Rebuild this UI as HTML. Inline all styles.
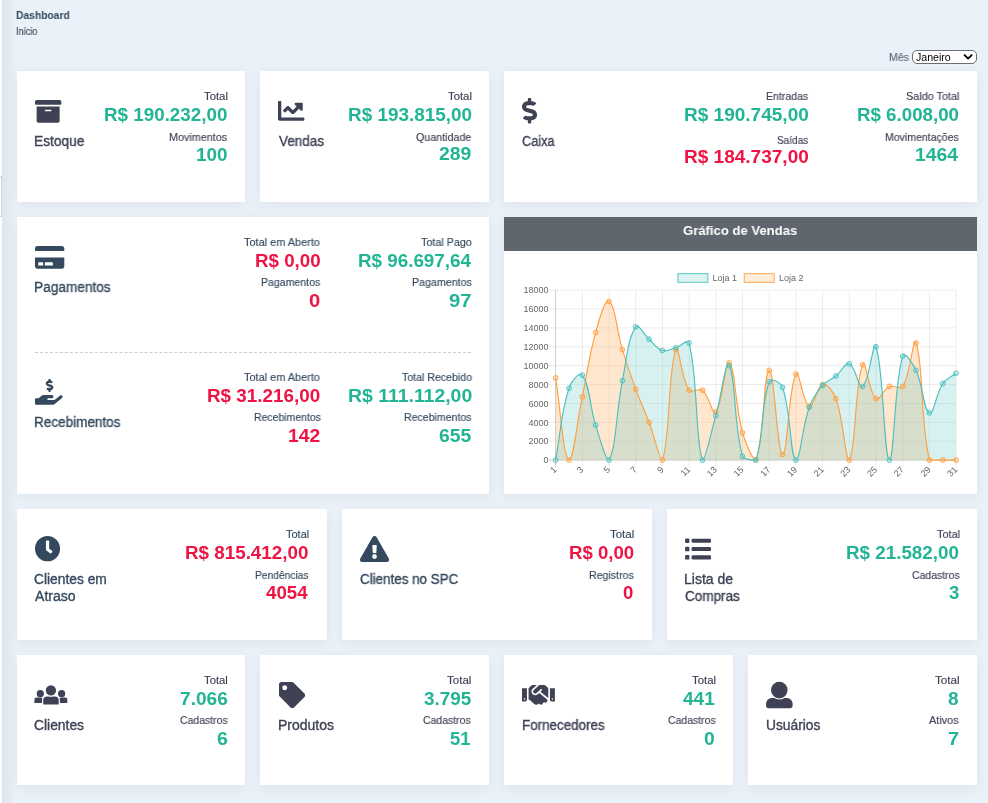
<!DOCTYPE html>
<html lang="pt-BR"><head><meta charset="utf-8"><title>Dashboard</title>
<style>
html,body{margin:0;padding:0}
body{width:988px;height:803px;overflow:hidden;background:#eaf1f8;font-family:"Liberation Sans",Arial,sans-serif;position:relative}
.edge{position:absolute;left:0;top:0;width:2px;height:803px;background:#fff}
.edgesh{position:absolute;left:2px;top:0;width:14px;height:803px;background:linear-gradient(to right,rgba(0,0,0,.05),rgba(0,0,0,0))}
.edge2{position:absolute;left:-10px;top:176px;width:12px;height:41px;border:1px solid #d3d6da;box-sizing:border-box;background:#fff}
.card{position:absolute;background:#fff;box-shadow:0 3px 12px rgba(0,0,0,.06)}
.tx{position:absolute;white-space:nowrap;transform-origin:0 0;will-change:transform}
.lbl{font-size:11.0px;line-height:14px;font-weight:400}
.val{font-size:18.6px;line-height:22px;font-weight:700}
.ttl{font-size:13.8px;line-height:17px;font-weight:400}
.hb{font-size:11.0px;line-height:14px;font-weight:700}
.hs{font-size:10.4px;line-height:13px;font-weight:400}
.hdr{font-size:13.4px;line-height:16px;font-weight:700}
.ic{position:absolute;overflow:visible;will-change:transform}
.chead{position:absolute;left:504px;top:217px;width:473px;height:33.5px;background:#5f666d}
.sel{position:absolute;left:912.1px;top:50.1px;width:64.8px;height:13.9px;box-sizing:border-box;border:1px solid #6e6e6e;border-radius:5px;background:#fff}
.dash{position:absolute;left:34.5px;top:352px;width:436.5px;height:0;border-top:1px dashed #cbcdd0}
</style></head><body>
<div class="edgesh"></div><div class="edge"></div><div class="edge2"></div>

<div class="card" style="left:17px;top:71px;width:228px;height:131px"></div>
<div class="card" style="left:260px;top:71px;width:229px;height:131px"></div>
<div class="card" style="left:504px;top:71px;width:473px;height:131px"></div>
<div class="card" style="left:17px;top:217px;width:472px;height:277px"></div>
<div class="card" style="left:504px;top:217px;width:473px;height:277px"></div>
<div class="card" style="left:17px;top:509px;width:310px;height:131px"></div>
<div class="card" style="left:342px;top:509px;width:310px;height:131px"></div>
<div class="card" style="left:667px;top:509px;width:310px;height:131px"></div>
<div class="card" style="left:17px;top:655px;width:228px;height:130px"></div>
<div class="card" style="left:260px;top:655px;width:229px;height:130px"></div>
<div class="card" style="left:504px;top:655px;width:229px;height:130px"></div>
<div class="card" style="left:748px;top:655px;width:229px;height:130px"></div>
<div class="chead"></div>
<div class="dash"></div>
<div class="sel"></div>
<div class="tx hb" style="left:16.28px;top:7.8px;color:#34495e;transform:scaleX(0.9354)">Dashboard</div>
<div class="tx hs" style="left:16.1px;top:24.8px;color:#3f4555;transform:scaleX(0.8579);-webkit-text-stroke:0.15px #3f4555">Início</div>
<div class="tx lbl" style="left:889.15px;top:49.8px;color:#5b6b7c;transform:scaleX(0.9606);-webkit-text-stroke:0.15px #5b6b7c">Mês</div>
<div class="tx lbl" style="left:203.87px;top:89.1px;color:#3f4254;transform:scaleX(1.0299);-webkit-text-stroke:0.15px #3f4254">Total</div>
<div class="tx val" style="left:103.67px;top:104.2px;color:#22b595;transform:scaleX(1.0113)">R$ 190.232,00</div>
<div class="tx lbl" style="left:169.24px;top:130.1px;color:#3f4254;transform:scaleX(0.9813);-webkit-text-stroke:0.15px #3f4254">Movimentos</div>
<div class="tx val" style="left:195.57px;top:143.6px;color:#22b595;transform:scaleX(1.0156)">100</div>
<div class="tx ttl" style="left:34px;top:133.1px;color:#3f4254;transform:scaleX(0.9952);-webkit-text-stroke:0.35px #3f4254">Estoque</div>
<div class="tx lbl" style="left:447.67px;top:89.1px;color:#3f4254;transform:scaleX(1.0299);-webkit-text-stroke:0.15px #3f4254">Total</div>
<div class="tx val" style="left:347.57px;top:104.2px;color:#22b595;transform:scaleX(1.0162)">R$ 193.815,00</div>
<div class="tx lbl" style="left:416.07px;top:130.1px;color:#3f4254;transform:scaleX(0.9707);-webkit-text-stroke:0.15px #3f4254">Quantidade</div>
<div class="tx val" style="left:439.22px;top:143.4px;color:#22b595;transform:scaleX(1.0435)">289</div>
<div class="tx ttl" style="left:278.6px;top:133.1px;color:#3f4254;transform:scaleX(0.9775);-webkit-text-stroke:0.35px #3f4254">Vendas</div>
<div class="tx lbl" style="left:766.36px;top:89.2px;color:#3f4254;transform:scaleX(0.9576);-webkit-text-stroke:0.15px #3f4254">Entradas</div>
<div class="tx val" style="left:684.06px;top:103.9px;color:#22b595;transform:scaleX(1.0229)">R$ 190.745,00</div>
<div class="tx lbl" style="left:777.4px;top:133.2px;color:#3f4254;transform:scaleX(0.9081);-webkit-text-stroke:0.15px #3f4254">Saídas</div>
<div class="tx val" style="left:684.06px;top:146.2px;color:#ef1443;transform:scaleX(1.0229)">R$ 184.737,00</div>
<div class="tx lbl" style="left:905.57px;top:89.2px;color:#3f4254;transform:scaleX(0.9850);-webkit-text-stroke:0.15px #3f4254">Saldo Total</div>
<div class="tx val" style="left:857.18px;top:103.9px;color:#22b595;transform:scaleX(1.0064)">R$ 6.008,00</div>
<div class="tx lbl" style="left:885.06px;top:130.3px;color:#3f4254;transform:scaleX(0.9575);-webkit-text-stroke:0.15px #3f4254">Movimentações</div>
<div class="tx val" style="left:915.44px;top:143.8px;color:#22b595;transform:scaleX(1.0388)">1464</div>
<div class="tx ttl" style="left:522.46px;top:133.1px;color:#3f4254;transform:scaleX(0.9237);-webkit-text-stroke:0.35px #3f4254">Caixa</div>
<div class="tx lbl" style="left:244.28px;top:235.4px;color:#34495e;transform:scaleX(0.9932);-webkit-text-stroke:0.15px #34495e">Total em Aberto</div>
<div class="tx val" style="left:254.98px;top:250.1px;color:#ef1443;transform:scaleX(1.0070)">R$ 0,00</div>
<div class="tx lbl" style="left:261.46px;top:275.1px;color:#34495e;transform:scaleX(0.9595);-webkit-text-stroke:0.15px #34495e">Pagamentos</div>
<div class="tx val" style="left:309.39px;top:290.1px;color:#ef1443;transform:scaleX(1.0862)">0</div>
<div class="tx lbl" style="left:420.78px;top:235.4px;color:#34495e;transform:scaleX(0.9773);-webkit-text-stroke:0.15px #34495e">Total Pago</div>
<div class="tx val" style="left:358.17px;top:250.1px;color:#22b595;transform:scaleX(1.0113)">R$ 96.697,64</div>
<div class="tx lbl" style="left:411.65px;top:275.1px;color:#34495e;transform:scaleX(0.9694);-webkit-text-stroke:0.15px #34495e">Pagamentos</div>
<div class="tx val" style="left:448.79px;top:290.1px;color:#22b595;transform:scaleX(1.0895)">97</div>
<div class="tx lbl" style="left:244.28px;top:370.4px;color:#34495e;transform:scaleX(0.9932);-webkit-text-stroke:0.15px #34495e">Total em Aberto</div>
<div class="tx val" style="left:207.37px;top:385.1px;color:#ef1443;transform:scaleX(1.0136)">R$ 31.216,00</div>
<div class="tx lbl" style="left:253.86px;top:410.1px;color:#34495e;transform:scaleX(0.9508);-webkit-text-stroke:0.15px #34495e">Recebimentos</div>
<div class="tx val" style="left:288.34px;top:425.1px;color:#ef1443;transform:scaleX(1.0395)">142</div>
<div class="tx lbl" style="left:401.59px;top:370.4px;color:#34495e;transform:scaleX(0.9619);-webkit-text-stroke:0.15px #34495e">Total Recebido</div>
<div class="tx val" style="left:347.63px;top:385.1px;color:#22b595;transform:scaleX(1.0447)">R$ 111.112,00</div>
<div class="tx lbl" style="left:404.06px;top:410.1px;color:#34495e;transform:scaleX(0.9594);-webkit-text-stroke:0.15px #34495e">Recebimentos</div>
<div class="tx val" style="left:438.82px;top:425.1px;color:#22b595;transform:scaleX(1.0404)">655</div>
<div class="tx ttl" style="left:34.21px;top:278.8px;color:#34495e;transform:scaleX(0.9899);-webkit-text-stroke:0.35px #34495e">Pagamentos</div>
<div class="tx ttl" style="left:34.22px;top:414px;color:#34495e;transform:scaleX(0.9805);-webkit-text-stroke:0.35px #34495e">Recebimentos</div>
<div class="tx lbl" style="left:285.78px;top:527px;color:#34495e;transform:scaleX(0.9941);-webkit-text-stroke:0.15px #34495e">Total</div>
<div class="tx val" style="left:185.17px;top:541.8px;color:#ef1443;transform:scaleX(1.0113)">R$ 815.412,00</div>
<div class="tx lbl" style="left:254.98px;top:567.8px;color:#34495e;transform:scaleX(0.9311);-webkit-text-stroke:0.15px #34495e">Pendências</div>
<div class="tx val" style="left:266.21px;top:581.9px;color:#ef1443;transform:scaleX(1.0057)">4054</div>
<div class="tx ttl" style="left:34.41px;top:570.6px;color:#34495e;-webkit-text-stroke:0.35px #34495e">Clientes em</div>
<div class="tx ttl" style="left:34.9px;top:587.7px;color:#34495e;transform:scaleX(1.0207);-webkit-text-stroke:0.35px #34495e">Atraso</div>
<div class="tx lbl" style="left:610.07px;top:527px;color:#34495e;transform:scaleX(1.0434);-webkit-text-stroke:0.15px #34495e">Total</div>
<div class="tx val" style="left:568.69px;top:541.9px;color:#ef1443">R$ 0,00</div>
<div class="tx lbl" style="left:589.15px;top:567.8px;color:#34495e;transform:scaleX(0.9635);-webkit-text-stroke:0.15px #34495e">Registros</div>
<div class="tx val" style="left:623.44px;top:581.8px;color:#ef1443">0</div>
<div class="tx ttl" style="left:360.03px;top:570.8px;color:#34495e;transform:scaleX(0.9709);-webkit-text-stroke:0.35px #34495e">Clientes no SPC</div>
<div class="tx lbl" style="left:936.58px;top:527px;color:#3f4254;transform:scaleX(0.9896);-webkit-text-stroke:0.15px #3f4254">Total</div>
<div class="tx val" style="left:846.47px;top:541.9px;color:#22b595;transform:scaleX(1.0109)">R$ 21.582,00</div>
<div class="tx lbl" style="left:911.58px;top:567.8px;color:#3f4254;transform:scaleX(0.9502);-webkit-text-stroke:0.15px #3f4254">Cadastros</div>
<div class="tx val" style="left:948.73px;top:581.8px;color:#22b595;transform:scaleX(0.9892)">3</div>
<div class="tx ttl" style="left:684.18px;top:570.6px;color:#3f4254;transform:scaleX(1.0143);-webkit-text-stroke:0.35px #3f4254">Lista de</div>
<div class="tx ttl" style="left:684.62px;top:587.7px;color:#3f4254;transform:scaleX(0.9785);-webkit-text-stroke:0.35px #3f4254">Compras</div>
<div class="tx lbl" style="left:204.17px;top:672.9px;color:#3f4254;transform:scaleX(1.0255);-webkit-text-stroke:0.15px #3f4254">Total</div>
<div class="tx val" style="left:179.74px;top:687.9px;color:#22b595;transform:scaleX(1.0282)">7.066</div>
<div class="tx lbl" style="left:179.98px;top:712.9px;color:#3f4254;transform:scaleX(0.9502);-webkit-text-stroke:0.15px #3f4254">Cadastros</div>
<div class="tx val" style="left:216.71px;top:727.7px;color:#22b595;transform:scaleX(1.0533)">6</div>
<div class="tx lbl" style="left:447.07px;top:672.9px;color:#3f4254;transform:scaleX(1.0478);-webkit-text-stroke:0.15px #3f4254">Total</div>
<div class="tx val" style="left:423.52px;top:687.9px;color:#22b595;transform:scaleX(1.0156)">3.795</div>
<div class="tx lbl" style="left:423.38px;top:712.9px;color:#3f4254;transform:scaleX(0.9502);-webkit-text-stroke:0.15px #3f4254">Cadastros</div>
<div class="tx val" style="left:450.25px;top:727.7px;color:#22b595;transform:scaleX(0.9926)">51</div>
<div class="tx lbl" style="left:691.57px;top:672.9px;color:#3f4254;transform:scaleX(1.0344);-webkit-text-stroke:0.15px #3f4254">Total</div>
<div class="tx val" style="left:683.21px;top:687.9px;color:#22b595;transform:scaleX(1.0243)">441</div>
<div class="tx lbl" style="left:667.58px;top:712.9px;color:#3f4254;transform:scaleX(0.9502);-webkit-text-stroke:0.15px #3f4254">Cadastros</div>
<div class="tx val" style="left:704.42px;top:727.7px;color:#22b595;transform:scaleX(1.0424)">0</div>
<div class="tx lbl" style="left:934.77px;top:672.9px;color:#3f4254;transform:scaleX(1.0613);-webkit-text-stroke:0.15px #3f4254">Total</div>
<div class="tx val" style="left:948.23px;top:687.9px;color:#22b595;transform:scaleX(1.0215)">8</div>
<div class="tx lbl" style="left:929.4px;top:712.9px;color:#3f4254;transform:scaleX(0.9890);-webkit-text-stroke:0.15px #3f4254">Ativos</div>
<div class="tx val" style="left:948.01px;top:727.7px;color:#22b595;transform:scaleX(1.0641)">7</div>
<div class="tx ttl" style="left:34.41px;top:716.8px;color:#3f4254;transform:scaleX(1.0030);-webkit-text-stroke:0.35px #3f4254">Clientes</div>
<div class="tx ttl" style="left:277.98px;top:717px;color:#3f4254;transform:scaleX(1.0146);-webkit-text-stroke:0.35px #3f4254">Produtos</div>
<div class="tx ttl" style="left:521.83px;top:716.8px;color:#3f4254;transform:scaleX(0.9710);-webkit-text-stroke:0.35px #3f4254">Fornecedores</div>
<div class="tx ttl" style="left:765.94px;top:717px;color:#3f4254;-webkit-text-stroke:0.35px #3f4254">Usuários</div>
<div class="tx hdr" style="left:683.48px;top:223px;color:#ffffff;transform:scaleX(0.9775)">Gráfico de Vendas</div>
<div class="tx" style="left:915.6px;top:51px;font-size:10.6px;line-height:12px;color:#000">Janeiro</div>
<svg class="ic" style="left:962px;top:52px" width="12" height="10" viewBox="0 0 12 10"><path d="M2.6 3.1 L6.1 6.6 L9.6 3.1" fill="none" stroke="#000" stroke-width="1.9" stroke-linecap="round" stroke-linejoin="round"/></svg>
<svg class="ic" style="left:34.5px;top:99.9px" width="26.3" height="22.7" viewBox="0 32 512 448" preserveAspectRatio="none"><path fill="#3f4254" d="M32 448c0 17.7 14.3 32 32 32h384c17.7 0 32-14.3 32-32V160H32v288zm160-212c0-6.6 5.4-12 12-12h104c6.6 0 12 5.4 12 12v8c0 6.6-5.4 12-12 12H204c-6.6 0-12-5.4-12-12v-8zM480 32H32C14.3 32 0 46.3 0 64v48c0 8.8 7.2 16 16 16h480c8.8 0 16-7.2 16-16V64c0-17.7-14.3-32-32-32z"/></svg>
<svg class="ic" style="left:278.4px;top:101.1px" width="26.4" height="19.7" viewBox="0 64 512 384" preserveAspectRatio="none"><path fill="#3f4254" d="M496 384H64V80c0-8.84-7.16-16-16-16H16C7.16 64 0 71.16 0 80v336c0 17.67 14.33 32 32 32h464c8.84 0 16-7.16 16-16v-32c0-8.84-7.16-16-16-16zM464 96H345.94c-21.38 0-32.09 25.85-16.97 40.97l32.4 32.4L288 242.75l-73.37-73.37c-12.5-12.5-32.76-12.5-45.25 0l-68.69 68.69c-6.25 6.25-6.25 16.38 0 22.63l22.62 22.62c6.25 6.25 16.38 6.25 22.63 0L192 237.25l73.37 73.37c12.5 12.5 32.76 12.5 45.25 0l96-96 32.4 32.4c15.12 15.12 40.97 4.41 40.97-16.97V112c.01-8.84-7.15-16-15.99-16z"/></svg>
<svg class="ic" style="left:522.2px;top:98.3px" width="15.1" height="25.5" viewBox="0.04 0 287.94 512" preserveAspectRatio="none"><path fill="#3f4254" d="M209.2 233.4l-108-31.6C88.7 198.2 80 186.5 80 173.5c0-16.3 13.2-29.5 29.5-29.5h66.3c12.2 0 24.2 3.7 34.2 10.5 6.1 4.1 14.3 3.1 19.5-2l34.8-34c7.1-6.9 6.1-18.4-1.8-24.5C238 74.8 207.4 64.1 176 64V16c0-8.8-7.2-16-16-16h-32c-8.8 0-16 7.2-16 16v48h-2.5C45.8 64-5.4 118.7.5 183.6c4.2 46.1 39.4 83.6 83.8 96.6l102.5 30c12.5 3.7 21.2 15.3 21.2 28.3 0 16.3-13.2 29.5-29.5 29.5h-66.3C100 368 88 364.3 78 357.5c-6.1-4.1-14.3-3.1-19.5 2l-34.8 34c-7.1 6.9-6.1 18.4 1.8 24.5 24.5 19.2 55.1 29.9 86.5 30v48c0 8.8 7.2 16 16 16h32c8.8 0 16-7.2 16-16v-48.2c46.6-.9 90.3-28.6 105.7-72.7 21.5-61.6-14.6-124.8-72.5-141.7z"/></svg>
<svg class="ic" style="left:34.6px;top:245.6px" width="29.3" height="22.8" viewBox="0 32 576 448" preserveAspectRatio="none"><path fill="#34495e" d="M0 432c0 26.5 21.5 48 48 48h480c26.5 0 48-21.5 48-48V256H0v176zm192-68c0-6.6 5.4-12 12-12h136c6.6 0 12 5.4 12 12v40c0 6.6-5.4 12-12 12H204c-6.6 0-12-5.4-12-12v-40zm-128 0c0-6.6 5.4-12 12-12h72c6.6 0 12 5.4 12 12v40c0 6.6-5.4 12-12 12H76c-6.6 0-12-5.4-12-12v-40zM576 80v48H0V80c0-26.5 21.5-48 48-48h480c26.5 0 48 21.5 48 48z"/></svg>
<svg class="ic" style="left:34.5px;top:379.1px" width="27.6" height="25.8" viewBox="0 0 576.01 512" preserveAspectRatio="none"><path fill="#34495e" d="M271.06,144.3l54.27,14.3a8.59,8.59,0,0,1,6.63,8.1c0,4.6-4.09,8.4-9.12,8.4h-35.6a30,30,0,0,1-11.19-2.2c-5.24-2.2-11.28-1.7-15.3,2l-19,17.5a11.68,11.68,0,0,0-2.25,2.66,11.42,11.42,0,0,0,3.88,15.74,83.77,83.77,0,0,0,34.51,11.5V240c0,8.8,7.830,16,17.37,16h17.37c9.55,0,17.38-7.2,17.38-16V222.4c32.93-3.6,57.84-31,53.5-63-3.15-23-22.46-41.3-46.56-47.7L282.68,97.4a8.59,8.59,0,0,1-6.63-8.1c0-4.6,4.09-8.4,9.12-8.4h35.6A30,30,0,0,1,332,83.1c5.23,2.2,11.28,1.7,15.3-2l19-17.5A11.31,11.31,0,0,0,368.47,61a11.43,11.43,0,0,0-3.84-15.78,83.820,83.820,0,0,0-34.52-11.5V16c0-8.8-7.82-16-17.37-16H295.37C285.82,0,278,7.2,278,16V33.6c-32.89,3.6-57.85,31-53.51,63C227.630,119.6,247,137.9,271.06,144.3ZM565.27,328.1c-11.8-10.7-30.2-10-42.6,0L430.27,402a63.64,63.64,0,0,1-40,14H272a16,16,0,0,1,0-32h78.29c15.9,0,30.71-10.9,33.25-26.6a31.2,31.2,0,0,0,.46-5.46A32,32,0,0,0,352,320H192a117.66,117.66,0,0,0-74.1,26.29L71.4,384H16A16,16,0,0,0,0,400v96a16,16,0,0,0,16,16H372.77a64,64,0,0,0,40-14L564,377a32,32,0,0,0,1.28-48.9Z"/></svg>
<svg class="ic" style="left:35.1px;top:536.3px" width="25.1" height="25.3" viewBox="8 8 496 496" preserveAspectRatio="none"><path fill="#34495e" d="M256,8C119,8,8,119,8,256S119,504,256,504,504,393,504,256,393,8,256,8Zm92.49,313h0l-20,25a16,16,0,0,1-22.49,2.5h0l-67-49.72a40,40,0,0,1-15-31.23V112a16,16,0,0,1,16-16h32a16,16,0,0,1,16,16V256l58,42.5A16,16,0,0,1,348.49,321Z"/></svg>
<svg class="ic" style="left:360px;top:535.9px" width="29.1" height="26.1" viewBox="-0 -0 576 512" preserveAspectRatio="none"><path fill="#34495e" d="M569.517 440.013C587.975 472.007 564.806 512 527.94 512H48.054c-36.937 0-59.999-40.055-41.577-71.987L246.423 23.985c18.467-32.009 64.72-31.951 83.154 0l239.94 416.028zM288 354c-25.405 0-46 20.595-46 46s20.595 46 46 46 46-20.595 46-46-20.595-46-46-46zm-43.673-165.346l7.418 136c.347 6.364 5.609 11.346 11.982 11.346h48.546c6.373 0 11.635-4.982 11.982-11.346l7.418-136c.375-6.874-5.098-12.654-11.982-12.654h-63.383c-6.884 0-12.356 5.78-11.981 12.654z"/></svg>
<svg class="ic" style="left:278.5px;top:681.9px" width="26.2" height="26.1" viewBox="0 0 512 512" preserveAspectRatio="none"><path fill="#3f4254" d="M0 252.118V48C0 21.490 21.490 0 48 0h204.118a48 48 0 0 1 33.941 14.059l211.882 211.882c18.745 18.745 18.745 49.137 0 67.882L293.823 497.941c-18.745 18.745-49.137 18.745-67.882 0L14.059 286.059A48 48 0 0 1 0 252.118zM112 64c-26.510 0-48 21.490-48 48s21.490 48 48 48 48-21.490 48-48-21.490-48-48-48z"/></svg>
<svg class="ic" style="left:522.1px;top:685.1px" width="32.9" height="19.8" viewBox="0 64 640 384.14" preserveAspectRatio="none"><path fill="#3f4254" d="M434.7 64h-85.9c-8 0-15.7 3-21.6 8.4l-98.3 90c-.1.1-.2.3-.3.4-16.6 15.6-16.3 40.5-2.1 56 12.7 13.9 39.4 17.6 56.1 2.7.1-.1.3-.1.4-.2l79.9-73.2c6.5-5.9 16.7-5.5 22.6 1 6 6.5 5.5 16.6-1 22.6l-26.1 23.9L504 313.8c2.9 2.4 5.5 5 7.9 7.7V128l-54.6-54.6c-5.9-6-14.1-9.4-22.6-9.4zM544 128.2v223.9c0 17.7 14.3 32 32 32h64V128.2h-96zm48 223.9c-8.8 0-16-7.2-16-16s7.2-16 16-16 16 7.2 16 16-7.2 16-16 16zM0 384h64c17.7 0 32-14.3 32-32V128.2H0V384zm48-63.9c8.8 0 16 7.2 16 16s-7.2 16-16 16-16-7.2-16-16c0-8.9 7.2-16 16-16zm435.9 18.6L334.6 217.5l-30 27.5c-29.7 27.1-75.2 24.5-101.7-4.4-26.9-29.4-24.8-74.9 4.4-101.7L289.1 64h-83.8c-8.5 0-16.6 3.4-22.6 9.4L128 128v223.9h18.3l90.5 81.9c27.4 22.3 67.7 18.1 90-9.3l.2-.2 17.9 15.5c15.9 13 39.4 10.5 52.3-5.4l31.4-38.6 5.4 4.4c13.7 11.1 33.9 9.1 45-4.7l9.5-11.7c11.2-13.8 9.1-33.9-4.6-45.1z"/></svg>
<svg class="ic" style="left:684px;top:537px" width="28" height="24" viewBox="684 537 28 24"><g fill="#3f4254">
<rect x="685.1" y="538.5" width="4.3" height="4.5" rx="0.9"/><rect x="691.6" y="538.7" width="19.4" height="4.1" rx="1.2"/>
<rect x="685.1" y="546.8" width="4.3" height="4.5" rx="0.9"/><rect x="691.6" y="547.0" width="19.4" height="4.1" rx="1.2"/>
<rect x="685.1" y="555.1" width="4.3" height="4.5" rx="0.9"/><rect x="691.6" y="555.3" width="19.4" height="4.1" rx="1.2"/></g></svg>
<svg class="ic" style="left:33px;top:684px" width="36" height="22" viewBox="33 684 36 22">
<g fill="#3f4254"><circle cx="40.3" cy="693.7" r="3.6"/><circle cx="61.6" cy="693.7" r="3.6"/>
<path d="M34.4 699.6 a2 2 0 0 1 2 -2 h4.5 a2 2 0 0 1 2 2 v3.4 h-8.5 z"/><path d="M59.1 699.6 a2 2 0 0 1 2 -2 h4.2 a2 2 0 0 1 2 2 v3.4 h-8.2 z"/></g>
<path d="M42.6 700.4 a4.4 4.4 0 0 1 4.4 -4.4 h7.9 a4.4 4.4 0 0 1 4.4 4.4 v3.6 a1 1 0 0 1 -1 1 h-14.7 a1 1 0 0 1 -1 -1 z" fill="#3f4254" stroke="#fff" stroke-width="1.2"/>
<circle cx="50.9" cy="690.4" r="5.7" fill="#3f4254" stroke="#fff" stroke-width="1.1"/></svg>
<svg class="ic" style="left:765px;top:680px" width="29" height="30" viewBox="765 680 29 30">
<path d="M766.1 703.6 a5.6 5.6 0 0 1 5.6 -5.6 h15.3 a5.6 5.6 0 0 1 5.6 5.6 v2.5 a2.1 2.1 0 0 1 -2.1 2.1 h-22.3 a2.1 2.1 0 0 1 -2.1 -2.1 z" fill="#3f4254"/>
<circle cx="779.3" cy="690.1" r="9.3" fill="#fff"/><circle cx="779.3" cy="690.1" r="8.3" fill="#3f4254"/></svg>
<svg class="ic" style="left:504px;top:250px" width="473" height="243" viewBox="504 250 473 243" font-family="Liberation Sans, Arial, sans-serif">
<line x1="548.40" y1="460.10" x2="956.10" y2="460.10" stroke="rgba(0,0,0,0.25)" stroke-width="0.75"/>
<line x1="548.40" y1="441.21" x2="956.10" y2="441.21" stroke="rgba(0,0,0,0.1)" stroke-width="0.75"/>
<line x1="548.40" y1="422.32" x2="956.10" y2="422.32" stroke="rgba(0,0,0,0.1)" stroke-width="0.75"/>
<line x1="548.40" y1="403.43" x2="956.10" y2="403.43" stroke="rgba(0,0,0,0.1)" stroke-width="0.75"/>
<line x1="548.40" y1="384.54" x2="956.10" y2="384.54" stroke="rgba(0,0,0,0.1)" stroke-width="0.75"/>
<line x1="548.40" y1="365.66" x2="956.10" y2="365.66" stroke="rgba(0,0,0,0.1)" stroke-width="0.75"/>
<line x1="548.40" y1="346.77" x2="956.10" y2="346.77" stroke="rgba(0,0,0,0.1)" stroke-width="0.75"/>
<line x1="548.40" y1="327.88" x2="956.10" y2="327.88" stroke="rgba(0,0,0,0.1)" stroke-width="0.75"/>
<line x1="548.40" y1="308.99" x2="956.10" y2="308.99" stroke="rgba(0,0,0,0.1)" stroke-width="0.75"/>
<line x1="548.40" y1="290.10" x2="956.10" y2="290.10" stroke="rgba(0,0,0,0.1)" stroke-width="0.75"/>
<line x1="555.60" y1="290.10" x2="555.60" y2="467.40" stroke="rgba(0,0,0,0.25)" stroke-width="0.75"/>
<line x1="582.30" y1="290.10" x2="582.30" y2="467.40" stroke="rgba(0,0,0,0.1)" stroke-width="0.75"/>
<line x1="609.00" y1="290.10" x2="609.00" y2="467.40" stroke="rgba(0,0,0,0.1)" stroke-width="0.75"/>
<line x1="635.70" y1="290.10" x2="635.70" y2="467.40" stroke="rgba(0,0,0,0.1)" stroke-width="0.75"/>
<line x1="662.40" y1="290.10" x2="662.40" y2="467.40" stroke="rgba(0,0,0,0.1)" stroke-width="0.75"/>
<line x1="689.10" y1="290.10" x2="689.10" y2="467.40" stroke="rgba(0,0,0,0.1)" stroke-width="0.75"/>
<line x1="715.80" y1="290.10" x2="715.80" y2="467.40" stroke="rgba(0,0,0,0.1)" stroke-width="0.75"/>
<line x1="742.50" y1="290.10" x2="742.50" y2="467.40" stroke="rgba(0,0,0,0.1)" stroke-width="0.75"/>
<line x1="769.20" y1="290.10" x2="769.20" y2="467.40" stroke="rgba(0,0,0,0.1)" stroke-width="0.75"/>
<line x1="795.90" y1="290.10" x2="795.90" y2="467.40" stroke="rgba(0,0,0,0.1)" stroke-width="0.75"/>
<line x1="822.60" y1="290.10" x2="822.60" y2="467.40" stroke="rgba(0,0,0,0.1)" stroke-width="0.75"/>
<line x1="849.30" y1="290.10" x2="849.30" y2="467.40" stroke="rgba(0,0,0,0.1)" stroke-width="0.75"/>
<line x1="876.00" y1="290.10" x2="876.00" y2="467.40" stroke="rgba(0,0,0,0.1)" stroke-width="0.75"/>
<line x1="902.70" y1="290.10" x2="902.70" y2="467.40" stroke="rgba(0,0,0,0.1)" stroke-width="0.75"/>
<line x1="929.40" y1="290.10" x2="929.40" y2="467.40" stroke="rgba(0,0,0,0.1)" stroke-width="0.75"/>
<line x1="956.10" y1="290.10" x2="956.10" y2="467.40" stroke="rgba(0,0,0,0.1)" stroke-width="0.75"/>
<path d="M555.60 377.93C560.94 410.80 562.94 455.85 568.95 460.10C573.62 460.10 577.00 422.14 582.30 396.82C587.68 371.14 588.61 357.75 595.65 332.60C599.29 319.60 604.68 298.68 609.00 301.43C615.36 305.48 616.54 330.48 622.35 349.60C627.22 365.61 629.93 373.56 635.70 389.27C640.61 402.65 644.02 408.98 649.05 422.32C654.70 437.32 659.57 460.10 662.40 460.10C670.25 438.71 668.03 369.80 675.75 349.60C678.71 341.84 680.96 377.83 689.10 390.21C691.64 394.08 698.78 387.23 702.45 390.21C709.46 395.91 712.24 415.59 715.80 411.93C722.92 404.63 724.70 359.36 729.15 362.82C735.38 367.67 735.02 405.47 742.50 432.71C745.70 444.38 753.16 460.10 755.85 460.10C763.84 441.44 763.69 371.55 769.20 370.38C774.37 369.28 777.09 453.66 782.55 454.43C787.77 455.17 788.42 387.65 795.90 374.16C799.10 368.39 803.09 403.87 809.25 406.27C813.77 408.02 816.54 386.26 822.60 384.54C827.22 383.24 833.42 391.56 835.95 398.71C844.10 421.78 845.08 460.10 849.30 460.10C855.76 451.87 854.91 382.51 862.65 364.71C865.59 357.96 868.86 392.91 876.00 398.71C879.54 401.59 883.20 389.26 889.35 386.43C893.88 384.35 900.28 390.38 902.70 386.43C910.96 373.00 913.08 334.79 916.05 342.99C923.76 364.26 919.81 418.02 929.40 460.10C930.49 460.10 937.41 460.10 942.75 460.10C948.09 460.10 950.76 460.10 956.10 460.10L956.10 460.10L555.60 460.10Z" fill="rgba(255,159,64,0.25)"/>
<path d="M555.60 460.10C560.94 431.39 560.46 415.36 568.95 388.32C571.14 381.36 579.46 371.18 582.30 375.10C590.14 385.91 589.45 405.41 595.65 425.16C600.13 439.41 605.61 460.10 609.00 460.10C616.29 447.98 616.03 412.30 622.35 380.77C626.71 359.03 627.65 339.46 635.70 326.93C638.33 322.84 643.62 334.41 649.05 339.21C654.30 343.85 656.40 348.63 662.40 350.54C667.08 352.03 670.51 349.19 675.75 347.71C681.19 346.17 687.95 338.17 689.10 342.99C698.63 383.12 694.78 439.22 702.45 460.10C705.46 460.10 710.76 433.55 715.80 415.71C721.44 395.77 725.29 359.79 729.15 365.66C735.97 376.03 733.22 423.51 742.50 456.32C743.90 460.10 754.26 460.10 755.85 460.10C764.94 434.69 760.17 406.31 769.20 381.71C770.85 377.22 780.80 382.24 782.55 387.38C791.48 413.59 789.75 455.53 795.90 460.10C800.43 460.10 801.97 427.55 809.25 407.21C812.65 397.70 816.09 393.08 822.60 385.49C826.77 380.62 830.89 380.16 835.95 376.04C841.57 371.48 844.94 362.07 849.30 363.77C855.62 366.23 858.53 389.06 862.65 386.43C869.21 382.26 873.13 338.86 876.00 346.77C883.81 368.33 883.78 458.13 889.35 460.10C894.46 460.10 893.69 386.48 902.70 356.21C904.37 350.59 912.80 363.49 916.05 370.38C923.48 386.15 923.20 409.81 929.40 412.88C933.88 415.10 935.75 394.00 942.75 383.60C946.43 378.13 950.76 377.37 956.10 373.21L956.10 460.10L555.60 460.10Z" fill="rgba(75,192,192,0.22)"/>
<path d="M555.60 377.93C560.94 410.80 562.94 455.85 568.95 460.10C573.62 460.10 577.00 422.14 582.30 396.82C587.68 371.14 588.61 357.75 595.65 332.60C599.29 319.60 604.68 298.68 609.00 301.43C615.36 305.48 616.54 330.48 622.35 349.60C627.22 365.61 629.93 373.56 635.70 389.27C640.61 402.65 644.02 408.98 649.05 422.32C654.70 437.32 659.57 460.10 662.40 460.10C670.25 438.71 668.03 369.80 675.75 349.60C678.71 341.84 680.96 377.83 689.10 390.21C691.64 394.08 698.78 387.23 702.45 390.21C709.46 395.91 712.24 415.59 715.80 411.93C722.92 404.63 724.70 359.36 729.15 362.82C735.38 367.67 735.02 405.47 742.50 432.71C745.70 444.38 753.16 460.10 755.85 460.10C763.84 441.44 763.69 371.55 769.20 370.38C774.37 369.28 777.09 453.66 782.55 454.43C787.77 455.17 788.42 387.65 795.90 374.16C799.10 368.39 803.09 403.87 809.25 406.27C813.77 408.02 816.54 386.26 822.60 384.54C827.22 383.24 833.42 391.56 835.95 398.71C844.10 421.78 845.08 460.10 849.30 460.10C855.76 451.87 854.91 382.51 862.65 364.71C865.59 357.96 868.86 392.91 876.00 398.71C879.54 401.59 883.20 389.26 889.35 386.43C893.88 384.35 900.28 390.38 902.70 386.43C910.96 373.00 913.08 334.79 916.05 342.99C923.76 364.26 919.81 418.02 929.40 460.10C930.49 460.10 937.41 460.10 942.75 460.10C948.09 460.10 950.76 460.10 956.10 460.10" fill="none" stroke="rgb(255,159,64)" stroke-width="1.15"/>
<circle cx="555.60" cy="377.93" r="2.4" fill="rgba(255,159,64,0.25)" stroke="rgb(255,159,64)" stroke-width="0.9"/>
<circle cx="568.95" cy="460.10" r="2.4" fill="rgba(255,159,64,0.25)" stroke="rgb(255,159,64)" stroke-width="0.9"/>
<circle cx="582.30" cy="396.82" r="2.4" fill="rgba(255,159,64,0.25)" stroke="rgb(255,159,64)" stroke-width="0.9"/>
<circle cx="595.65" cy="332.60" r="2.4" fill="rgba(255,159,64,0.25)" stroke="rgb(255,159,64)" stroke-width="0.9"/>
<circle cx="609.00" cy="301.43" r="2.4" fill="rgba(255,159,64,0.25)" stroke="rgb(255,159,64)" stroke-width="0.9"/>
<circle cx="622.35" cy="349.60" r="2.4" fill="rgba(255,159,64,0.25)" stroke="rgb(255,159,64)" stroke-width="0.9"/>
<circle cx="635.70" cy="389.27" r="2.4" fill="rgba(255,159,64,0.25)" stroke="rgb(255,159,64)" stroke-width="0.9"/>
<circle cx="649.05" cy="422.32" r="2.4" fill="rgba(255,159,64,0.25)" stroke="rgb(255,159,64)" stroke-width="0.9"/>
<circle cx="662.40" cy="460.10" r="2.4" fill="rgba(255,159,64,0.25)" stroke="rgb(255,159,64)" stroke-width="0.9"/>
<circle cx="675.75" cy="349.60" r="2.4" fill="rgba(255,159,64,0.25)" stroke="rgb(255,159,64)" stroke-width="0.9"/>
<circle cx="689.10" cy="390.21" r="2.4" fill="rgba(255,159,64,0.25)" stroke="rgb(255,159,64)" stroke-width="0.9"/>
<circle cx="702.45" cy="390.21" r="2.4" fill="rgba(255,159,64,0.25)" stroke="rgb(255,159,64)" stroke-width="0.9"/>
<circle cx="715.80" cy="411.93" r="2.4" fill="rgba(255,159,64,0.25)" stroke="rgb(255,159,64)" stroke-width="0.9"/>
<circle cx="729.15" cy="362.82" r="2.4" fill="rgba(255,159,64,0.25)" stroke="rgb(255,159,64)" stroke-width="0.9"/>
<circle cx="742.50" cy="432.71" r="2.4" fill="rgba(255,159,64,0.25)" stroke="rgb(255,159,64)" stroke-width="0.9"/>
<circle cx="755.85" cy="460.10" r="2.4" fill="rgba(255,159,64,0.25)" stroke="rgb(255,159,64)" stroke-width="0.9"/>
<circle cx="769.20" cy="370.38" r="2.4" fill="rgba(255,159,64,0.25)" stroke="rgb(255,159,64)" stroke-width="0.9"/>
<circle cx="782.55" cy="454.43" r="2.4" fill="rgba(255,159,64,0.25)" stroke="rgb(255,159,64)" stroke-width="0.9"/>
<circle cx="795.90" cy="374.16" r="2.4" fill="rgba(255,159,64,0.25)" stroke="rgb(255,159,64)" stroke-width="0.9"/>
<circle cx="809.25" cy="406.27" r="2.4" fill="rgba(255,159,64,0.25)" stroke="rgb(255,159,64)" stroke-width="0.9"/>
<circle cx="822.60" cy="384.54" r="2.4" fill="rgba(255,159,64,0.25)" stroke="rgb(255,159,64)" stroke-width="0.9"/>
<circle cx="835.95" cy="398.71" r="2.4" fill="rgba(255,159,64,0.25)" stroke="rgb(255,159,64)" stroke-width="0.9"/>
<circle cx="849.30" cy="460.10" r="2.4" fill="rgba(255,159,64,0.25)" stroke="rgb(255,159,64)" stroke-width="0.9"/>
<circle cx="862.65" cy="364.71" r="2.4" fill="rgba(255,159,64,0.25)" stroke="rgb(255,159,64)" stroke-width="0.9"/>
<circle cx="876.00" cy="398.71" r="2.4" fill="rgba(255,159,64,0.25)" stroke="rgb(255,159,64)" stroke-width="0.9"/>
<circle cx="889.35" cy="386.43" r="2.4" fill="rgba(255,159,64,0.25)" stroke="rgb(255,159,64)" stroke-width="0.9"/>
<circle cx="902.70" cy="386.43" r="2.4" fill="rgba(255,159,64,0.25)" stroke="rgb(255,159,64)" stroke-width="0.9"/>
<circle cx="916.05" cy="342.99" r="2.4" fill="rgba(255,159,64,0.25)" stroke="rgb(255,159,64)" stroke-width="0.9"/>
<circle cx="929.40" cy="460.10" r="2.4" fill="rgba(255,159,64,0.25)" stroke="rgb(255,159,64)" stroke-width="0.9"/>
<circle cx="942.75" cy="460.10" r="2.4" fill="rgba(255,159,64,0.25)" stroke="rgb(255,159,64)" stroke-width="0.9"/>
<circle cx="956.10" cy="460.10" r="2.4" fill="rgba(255,159,64,0.25)" stroke="rgb(255,159,64)" stroke-width="0.9"/>
<path d="M555.60 460.10C560.94 431.39 560.46 415.36 568.95 388.32C571.14 381.36 579.46 371.18 582.30 375.10C590.14 385.91 589.45 405.41 595.65 425.16C600.13 439.41 605.61 460.10 609.00 460.10C616.29 447.98 616.03 412.30 622.35 380.77C626.71 359.03 627.65 339.46 635.70 326.93C638.33 322.84 643.62 334.41 649.05 339.21C654.30 343.85 656.40 348.63 662.40 350.54C667.08 352.03 670.51 349.19 675.75 347.71C681.19 346.17 687.95 338.17 689.10 342.99C698.63 383.12 694.78 439.22 702.45 460.10C705.46 460.10 710.76 433.55 715.80 415.71C721.44 395.77 725.29 359.79 729.15 365.66C735.97 376.03 733.22 423.51 742.50 456.32C743.90 460.10 754.26 460.10 755.85 460.10C764.94 434.69 760.17 406.31 769.20 381.71C770.85 377.22 780.80 382.24 782.55 387.38C791.48 413.59 789.75 455.53 795.90 460.10C800.43 460.10 801.97 427.55 809.25 407.21C812.65 397.70 816.09 393.08 822.60 385.49C826.77 380.62 830.89 380.16 835.95 376.04C841.57 371.48 844.94 362.07 849.30 363.77C855.62 366.23 858.53 389.06 862.65 386.43C869.21 382.26 873.13 338.86 876.00 346.77C883.81 368.33 883.78 458.13 889.35 460.10C894.46 460.10 893.69 386.48 902.70 356.21C904.37 350.59 912.80 363.49 916.05 370.38C923.48 386.15 923.20 409.81 929.40 412.88C933.88 415.10 935.75 394.00 942.75 383.60C946.43 378.13 950.76 377.37 956.10 373.21" fill="none" stroke="rgb(75,192,192)" stroke-width="1.15"/>
<circle cx="555.60" cy="460.10" r="2.4" fill="rgba(75,192,192,0.22)" stroke="rgb(75,192,192)" stroke-width="0.9"/>
<circle cx="568.95" cy="388.32" r="2.4" fill="rgba(75,192,192,0.22)" stroke="rgb(75,192,192)" stroke-width="0.9"/>
<circle cx="582.30" cy="375.10" r="2.4" fill="rgba(75,192,192,0.22)" stroke="rgb(75,192,192)" stroke-width="0.9"/>
<circle cx="595.65" cy="425.16" r="2.4" fill="rgba(75,192,192,0.22)" stroke="rgb(75,192,192)" stroke-width="0.9"/>
<circle cx="609.00" cy="460.10" r="2.4" fill="rgba(75,192,192,0.22)" stroke="rgb(75,192,192)" stroke-width="0.9"/>
<circle cx="622.35" cy="380.77" r="2.4" fill="rgba(75,192,192,0.22)" stroke="rgb(75,192,192)" stroke-width="0.9"/>
<circle cx="635.70" cy="326.93" r="2.4" fill="rgba(75,192,192,0.22)" stroke="rgb(75,192,192)" stroke-width="0.9"/>
<circle cx="649.05" cy="339.21" r="2.4" fill="rgba(75,192,192,0.22)" stroke="rgb(75,192,192)" stroke-width="0.9"/>
<circle cx="662.40" cy="350.54" r="2.4" fill="rgba(75,192,192,0.22)" stroke="rgb(75,192,192)" stroke-width="0.9"/>
<circle cx="675.75" cy="347.71" r="2.4" fill="rgba(75,192,192,0.22)" stroke="rgb(75,192,192)" stroke-width="0.9"/>
<circle cx="689.10" cy="342.99" r="2.4" fill="rgba(75,192,192,0.22)" stroke="rgb(75,192,192)" stroke-width="0.9"/>
<circle cx="702.45" cy="460.10" r="2.4" fill="rgba(75,192,192,0.22)" stroke="rgb(75,192,192)" stroke-width="0.9"/>
<circle cx="715.80" cy="415.71" r="2.4" fill="rgba(75,192,192,0.22)" stroke="rgb(75,192,192)" stroke-width="0.9"/>
<circle cx="729.15" cy="365.66" r="2.4" fill="rgba(75,192,192,0.22)" stroke="rgb(75,192,192)" stroke-width="0.9"/>
<circle cx="742.50" cy="456.32" r="2.4" fill="rgba(75,192,192,0.22)" stroke="rgb(75,192,192)" stroke-width="0.9"/>
<circle cx="755.85" cy="460.10" r="2.4" fill="rgba(75,192,192,0.22)" stroke="rgb(75,192,192)" stroke-width="0.9"/>
<circle cx="769.20" cy="381.71" r="2.4" fill="rgba(75,192,192,0.22)" stroke="rgb(75,192,192)" stroke-width="0.9"/>
<circle cx="782.55" cy="387.38" r="2.4" fill="rgba(75,192,192,0.22)" stroke="rgb(75,192,192)" stroke-width="0.9"/>
<circle cx="795.90" cy="460.10" r="2.4" fill="rgba(75,192,192,0.22)" stroke="rgb(75,192,192)" stroke-width="0.9"/>
<circle cx="809.25" cy="407.21" r="2.4" fill="rgba(75,192,192,0.22)" stroke="rgb(75,192,192)" stroke-width="0.9"/>
<circle cx="822.60" cy="385.49" r="2.4" fill="rgba(75,192,192,0.22)" stroke="rgb(75,192,192)" stroke-width="0.9"/>
<circle cx="835.95" cy="376.04" r="2.4" fill="rgba(75,192,192,0.22)" stroke="rgb(75,192,192)" stroke-width="0.9"/>
<circle cx="849.30" cy="363.77" r="2.4" fill="rgba(75,192,192,0.22)" stroke="rgb(75,192,192)" stroke-width="0.9"/>
<circle cx="862.65" cy="386.43" r="2.4" fill="rgba(75,192,192,0.22)" stroke="rgb(75,192,192)" stroke-width="0.9"/>
<circle cx="876.00" cy="346.77" r="2.4" fill="rgba(75,192,192,0.22)" stroke="rgb(75,192,192)" stroke-width="0.9"/>
<circle cx="889.35" cy="460.10" r="2.4" fill="rgba(75,192,192,0.22)" stroke="rgb(75,192,192)" stroke-width="0.9"/>
<circle cx="902.70" cy="356.21" r="2.4" fill="rgba(75,192,192,0.22)" stroke="rgb(75,192,192)" stroke-width="0.9"/>
<circle cx="916.05" cy="370.38" r="2.4" fill="rgba(75,192,192,0.22)" stroke="rgb(75,192,192)" stroke-width="0.9"/>
<circle cx="929.40" cy="412.88" r="2.4" fill="rgba(75,192,192,0.22)" stroke="rgb(75,192,192)" stroke-width="0.9"/>
<circle cx="942.75" cy="383.60" r="2.4" fill="rgba(75,192,192,0.22)" stroke="rgb(75,192,192)" stroke-width="0.9"/>
<circle cx="956.10" cy="373.21" r="2.4" fill="rgba(75,192,192,0.22)" stroke="rgb(75,192,192)" stroke-width="0.9"/>
<text x="548.6" y="463.30" font-size="9" fill="#666" text-anchor="end">0</text>
<text x="548.6" y="444.41" font-size="9" fill="#666" text-anchor="end">2000</text>
<text x="548.6" y="425.52" font-size="9" fill="#666" text-anchor="end">4000</text>
<text x="548.6" y="406.63" font-size="9" fill="#666" text-anchor="end">6000</text>
<text x="548.6" y="387.74" font-size="9" fill="#666" text-anchor="end">8000</text>
<text x="548.6" y="368.86" font-size="9" fill="#666" text-anchor="end">10000</text>
<text x="548.6" y="349.97" font-size="9" fill="#666" text-anchor="end">12000</text>
<text x="548.6" y="331.08" font-size="9" fill="#666" text-anchor="end">14000</text>
<text x="548.6" y="312.19" font-size="9" fill="#666" text-anchor="end">16000</text>
<text x="548.6" y="293.30" font-size="9" fill="#666" text-anchor="end">18000</text>
<text transform="translate(555.30 468.00) rotate(-45)" font-size="9" fill="#666" text-anchor="end" y="3">1</text>
<text transform="translate(582.00 468.00) rotate(-45)" font-size="9" fill="#666" text-anchor="end" y="3">3</text>
<text transform="translate(608.70 468.00) rotate(-45)" font-size="9" fill="#666" text-anchor="end" y="3">5</text>
<text transform="translate(635.40 468.00) rotate(-45)" font-size="9" fill="#666" text-anchor="end" y="3">7</text>
<text transform="translate(662.10 468.00) rotate(-45)" font-size="9" fill="#666" text-anchor="end" y="3">9</text>
<text transform="translate(688.80 468.00) rotate(-45)" font-size="9" fill="#666" text-anchor="end" y="3">11</text>
<text transform="translate(715.50 468.00) rotate(-45)" font-size="9" fill="#666" text-anchor="end" y="3">13</text>
<text transform="translate(742.20 468.00) rotate(-45)" font-size="9" fill="#666" text-anchor="end" y="3">15</text>
<text transform="translate(768.90 468.00) rotate(-45)" font-size="9" fill="#666" text-anchor="end" y="3">17</text>
<text transform="translate(795.60 468.00) rotate(-45)" font-size="9" fill="#666" text-anchor="end" y="3">19</text>
<text transform="translate(822.30 468.00) rotate(-45)" font-size="9" fill="#666" text-anchor="end" y="3">21</text>
<text transform="translate(849.00 468.00) rotate(-45)" font-size="9" fill="#666" text-anchor="end" y="3">23</text>
<text transform="translate(875.70 468.00) rotate(-45)" font-size="9" fill="#666" text-anchor="end" y="3">25</text>
<text transform="translate(902.40 468.00) rotate(-45)" font-size="9" fill="#666" text-anchor="end" y="3">27</text>
<text transform="translate(929.10 468.00) rotate(-45)" font-size="9" fill="#666" text-anchor="end" y="3">29</text>
<text transform="translate(955.80 468.00) rotate(-45)" font-size="9" fill="#666" text-anchor="end" y="3">31</text>
<rect x="677.9" y="273.7" width="30" height="8.6" fill="rgba(75,192,192,0.2)" stroke="rgb(75,192,192)" stroke-width="0.9"/>
<text x="712.6" y="281.2" font-size="9" fill="#666">Loja 1</text>
<rect x="744.2" y="273.7" width="30" height="8.6" fill="rgba(255,159,64,0.2)" stroke="rgb(255,159,64)" stroke-width="0.9"/>
<text x="778.9" y="281.2" font-size="9" fill="#666">Loja 2</text>
</svg>
</body></html>
